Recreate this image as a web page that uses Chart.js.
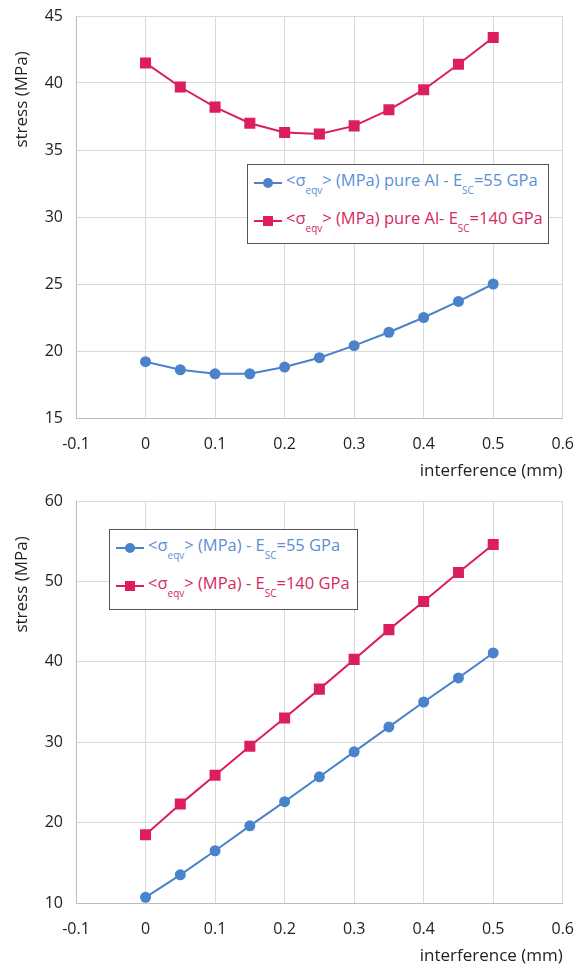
<!DOCTYPE html>
<html>
<head>
<title>stress vs interference</title>
<script src="https://cdn.jsdelivr.net/npm/chart.js@4.4.1/dist/chart.umd.min.js"></script>
<style>
body { margin: 0; background: #fff; font-family: "Open Sans", sans-serif; }
.chart-box { position: absolute; left: 0; width: 576px; height: 486px; }
.legend {
  position: absolute; background: #fff; border: 1px solid #555;
  font-size: 16.5px; line-height: 1; white-space: nowrap;
}
.legend .row { position: absolute; left: 6px; height: 20px; display: flex; align-items: center; }
.legend .mk { position: relative; width: 28px; height: 2px; margin-right: 4px; }
.legend .mk i { position: absolute; left: 9px; top: -4px; width: 10px; height: 10px; }
.legend sub { font-size: 10px; vertical-align: -8px; }
</style>
</head>
<body>

<div class="chart-box" style="top:0"><canvas id="top-chart"></canvas></div>
<div class="chart-box" style="top:485px"><canvas id="bottom-chart"></canvas></div>

<div class="legend" id="top-legend" style="left:247px; top:164px; width:300px; height:78px;"></div>
<div class="legend" id="bottom-legend" style="left:109px; top:529px; width:247px; height:79px;"></div>

<script>
// data
var interference = [0, 0.05, 0.1, 0.15, 0.2, 0.25, 0.3, 0.35, 0.4, 0.45, 0.5];

var pureAl_55 = [19.2, 18.6, 18.3, 18.3, 18.8, 19.5, 20.4, 21.4, 22.5, 23.7, 25.0];
var pureAl_140 = [41.5, 39.7, 38.2, 37.0, 36.3, 36.2, 36.8, 38.0, 39.5, 41.4, 43.4];

var sc_55 = [10.7, 13.5, 16.5, 19.6, 22.6, 25.7, 28.8, 31.9, 35.0, 38.0, 41.1];
var sc_140 = [18.5, 22.3, 25.9, 29.5, 33.0, 36.6, 40.3, 44.0, 47.5, 51.1, 54.6];

var topNames = ['<\u03c3<sub>eqv</sub>> (MPa) pure Al - E<sub>SC</sub>=55 GPa',
                '<\u03c3<sub>eqv</sub>> (MPa) pure Al- E<sub>SC</sub>=140 GPa'];
var bottomNames = ['<\u03c3<sub>eqv</sub>> (MPa) - E<sub>SC</sub>=55 GPa',
                   '<\u03c3<sub>eqv</sub>> (MPa) - E<sub>SC</sub>=140 GPa'];

var blue = '#4a82cc';
var red = '#dc1f5c';
var blueText = '#5b8fd6';
var redText = '#d42a5e';

function pts(ys) {
  var out = [];
  for (var i = 0; i < interference.length; i++) out.push({x: interference[i], y: ys[i]});
  return out;
}

function makeChart(id, s1, s2, yMin, yMax, yStep) {
  return new Chart(document.getElementById(id), {
    type: 'line',
    data: {
      datasets: [
        { data: pts(s1), borderColor: blue, backgroundColor: blue, borderWidth: 2,
          pointStyle: 'circle', pointRadius: 5.5, pointBorderWidth: 0, tension: 0 },
        { data: pts(s2), borderColor: red, backgroundColor: red, borderWidth: 2,
          pointStyle: 'rect', pointRadius: 7.8, pointBorderWidth: 0, tension: 0 }
      ]
    },
    options: {
      responsive: true,
      maintainAspectRatio: false,
      animation: false,
      layout: { padding: { top: 16, right: 0, left: 0, bottom: 0 } },
      plugins: { legend: { display: false }, tooltip: { enabled: false } },
      scales: {
        x: {
          type: 'linear', min: -0.1, max: 0.6,
          ticks: { stepSize: 0.1, padding: 2, color: '#222',
                   font: { family: 'Open Sans', size: 16 },
                   callback: function (v) { return Math.round(v * 10) / 10; } },
          // invisible tick marks just push the labels down
          grid: { color: '#d9d9d9', lineWidth: 1, tickLength: 15, tickColor: 'rgba(0,0,0,0)' },
          border: { color: '#bdbdbd' },
          title: { display: true, text: 'interference (mm)', align: 'end', color: '#222',
                   font: { family: 'Open Sans', size: 17 }, padding: { top: 0, bottom: 5 } },
          afterFit: function (scale) { scale.height = 68; }
        },
        y: {
          min: yMin, max: yMax,
          ticks: { stepSize: yStep, padding: 2, color: '#222',
                   font: { family: 'Open Sans', size: 16 } },
          grid: { color: '#d9d9d9', lineWidth: 1, tickLength: 11, tickColor: 'rgba(0,0,0,0)' },
          border: { color: '#bdbdbd' },
          title: { display: true, text: 'stress (MPa)        ', align: 'end', color: '#222',
                   font: { family: 'Open Sans', size: 17 }, padding: { top: 12, bottom: 0 } },
          afterFit: function (scale) { scale.width = 76; }
        }
      }
    }
  });
}

function makeLegend(id, names) {
  var box = document.getElementById(id);
  var colors = [blue, red];
  var textColors = [blueText, redText];
  var tops = [8, 46];
  for (var i = 0; i < names.length; i++) {
    var row = document.createElement('div');
    row.className = 'row';
    row.style.top = tops[i] + 'px';
    row.style.color = textColors[i];
    var mk = '<span class="mk" style="background:' + colors[i] + '"><i style="background:' + colors[i] +
      (i === 0 ? ';border-radius:50%' : '') + '"></i></span>';
    row.innerHTML = mk + '<span>' + names[i] + '</span>';
    box.appendChild(row);
  }
}

makeChart('top-chart', pureAl_55, pureAl_140, 15, 45, 5);
makeChart('bottom-chart', sc_55, sc_140, 10, 60, 10);
makeLegend('top-legend', topNames);
makeLegend('bottom-legend', bottomNames);
</script>
</body>
</html>
